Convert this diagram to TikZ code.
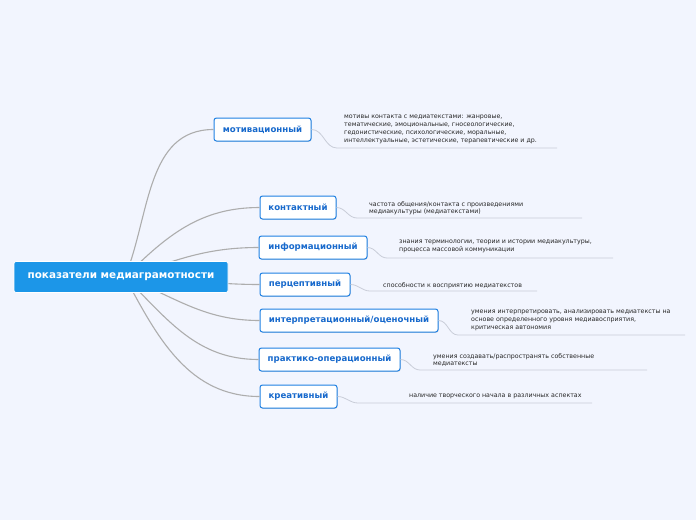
\documentclass[tikz,border=0pt]{standalone}
\usepackage{fontspec}
\setmainfont{DejaVu Sans}
\usetikzlibrary{positioning,shadows}
\definecolor{bgc}{HTML}{F2F5FE}
\definecolor{rootc}{HTML}{1C96E8}
\definecolor{edgec}{HTML}{1E80E2}
\definecolor{txtc}{HTML}{1769CC}
\definecolor{linkc}{HTML}{ADADAD}
\definecolor{ulc}{HTML}{C9CDD8}
\begin{document}
\begin{tikzpicture}[
  x=1pt,y=-1pt,
  root/.style={draw=white,line width=0.8pt,rectangle,rounded corners=2pt,fill=rootc,
               text=white,font=\fontsize{10.4}{12}\selectfont\bfseries,
               minimum width=214pt,minimum height=31pt},
  branch/.style={draw=edgec,line width=1pt,rectangle,rounded corners=2.5pt,fill=white,
                 text=txtc,font=\fontsize{8.6}{10}\selectfont\bfseries,
                 minimum height=23pt,inner xsep=6pt,
                 drop shadow={shadow xshift=0.6pt,shadow yshift=-0.8pt,opacity=0.25}},
  leaf/.style={anchor=north west,align=left,inner sep=0pt,text=black!85,
               font=\fontsize{6.3}{7.8}\selectfont},
  link/.style={draw=linkc,line width=1.1pt},
  leaflink/.style={draw=ulc,line width=0.8pt}
]
\fill[bgc] (0,0) rectangle (696,520);
\useasboundingbox (0,0) rectangle (696,520);
\coordinate (hub) at (125,277);
% Branches
\node[branch,minimum width=97pt]  (mot)  at (262.5,129.5) {мотивационный};
\node[branch,minimum width=76pt]  (kon)  at (298,207.5)   {контактный};
\node[branch,minimum width=108pt] (inf)  at (313,247.5)   {информационный};
\node[branch,minimum width=90pt]  (per)  at (305,284.5)   {перцептивный};
\node[branch,minimum width=178pt] (int)  at (349,320.5)   {интерпретационный/оценочный};
\node[branch,minimum width=141pt] (pra)  at (329.5,359.5) {практико-операционный};
\node[branch,minimum width=77pt]  (kre)  at (298.5,396.5) {креативный};
% Links
\draw[link] (hub) to[out=68,in=180]  (mot.west);
\draw[link] (hub) to[out=45,in=180]  (kon.west);
\draw[link] (hub) to[out=18,in=180]  (inf.west);
\draw[link] (hub) to[out=0,in=180]   (per.west);
\draw[link] (hub) to[out=-22,in=180] (int.west);
\draw[link] (hub) to[out=-45,in=180] (pra.west);
\draw[link] (hub) to[out=-62,in=180] (kre.west);
\node[root] (top) at (121,277) {показатели медиаграмотности};
% Leaves
\node[leaf] (motl) at (344,115) {мотивы контакта с медиатекстами: жанровые,\\
  тематические, эмоциональные, гносеологические,\\
  гедонистические, психологические, моральные,\\
  интеллектуальные, эстетические, терапевтические и др.};
\node[leaf] (konl) at (369,201) {частота общения/контакта с произведениями\\
  медиакультуры (медиатекстами)};
\node[leaf] (infl) at (399,240) {знания терминологии, теории и истории медиакультуры,\\
  процесса массовой коммуникации};
\node[leaf] (perl) at (383,282) {способности к восприятию медиатекстов};
\node[leaf] (intl) at (471,310) {умения интерпретировать, анализировать медиатексты на\\
  основе определенного уровня медиавосприятия,\\
  критическая автономия};
\node[leaf] (pral) at (433,353) {умения создавать/распространять собственные\\
  медиатексты};
\node[leaf] (krel) at (409,394) {наличие творческого начала в различных аспектах};
% Underlines
\coordinate (motu) at (337,148);  \coordinate (mote) at (557,148);
\coordinate (konu) at (357,218);  \coordinate (kone) at (582,218);
\coordinate (infu) at (387,258);  \coordinate (infe) at (613,258);
\coordinate (peru) at (370,291);  \coordinate (pere) at (537,291);
\coordinate (intu) at (458,335);  \coordinate (inte) at (685,335);
\coordinate (prau) at (420,370);  \coordinate (prae) at (647,370);
\coordinate (kreu) at (358,403);  \coordinate (kree) at (592,403);
\draw[leaflink] (mot.east) to[out=0,in=180] (motu) -- (mote);
\draw[leaflink] (kon.east) to[out=0,in=180] (konu) -- (kone);
\draw[leaflink] (inf.east) to[out=0,in=180] (infu) -- (infe);
\draw[leaflink] (per.east) to[out=0,in=180] (peru) -- (pere);
\draw[leaflink] (int.east) to[out=0,in=180] (intu) -- (inte);
\draw[leaflink] (pra.east) to[out=0,in=180] (prau) -- (prae);
\draw[leaflink] (kre.east) to[out=0,in=180] (kreu) -- (kree);
\end{tikzpicture}
\end{document}
